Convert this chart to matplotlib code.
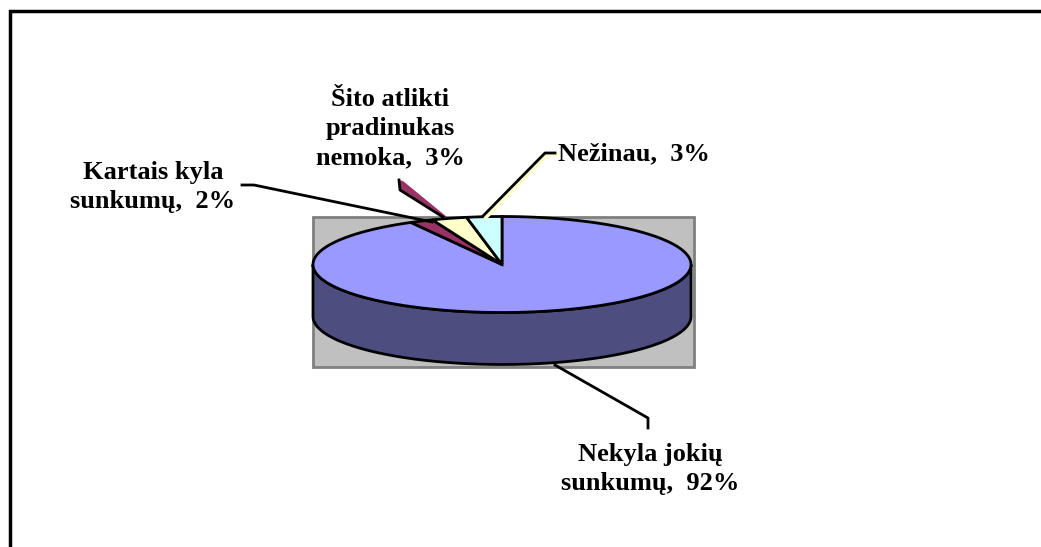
import numpy as np
import matplotlib.pyplot as plt
from matplotlib.patches import Polygon, Rectangle

# slices, clockwise from 12 o'clock (as the spreadsheet draws them)
labels = ['Nekyla jokių\nsunkumų,  92%', 'Kartais kyla\nsunkumų,  2%',
          'Šito atlikti\npradinukas\nnemoka,  3%', 'Nežinau,  3%']
values = [92, 2, 3, 3]
colors = ['#9999FF', '#993366', '#FFFFCC', '#CCFFFF']
side_color = '#4D4D80'

W, H = 1041, 547
fig = plt.figure(figsize=(W / 100, H / 100), dpi=100)
ax = fig.add_axes([0, 0, 1, 1])
ax.set_xlim(0, W)
ax.set_ylim(H, 0)
ax.axis('off')

# outer chart frame (only top/left visible in the crop)
ax.plot([10, 10, W + 5], [H + 5, 11, 11], color='black', lw=2.5, solid_joinstyle='miter')

# pie geometry in pixel space
cx, cy, rx, ry, depth = 502, 264.5, 189, 48, 52

# gray plot area behind the pie
ax.add_patch(Rectangle((cx - rx, cy - ry), 2 * rx + 3, 2 * ry + depth + 2,
                       facecolor='#C0C0C0', edgecolor='#808080', lw=2, zorder=1))


def ell(theta_deg, dy=0):
    t = np.radians(theta_deg)
    return cx + rx * np.sin(t), cy - ry * np.cos(t) + dy


# side wall (front half is all the big slice)
t = np.linspace(90, 270, 200)
xs, ys = ell(t)
xb, yb = ell(t[::-1], depth)
ax.add_patch(Polygon(np.column_stack([np.r_[xs, xb], np.r_[ys, yb]]),
                     facecolor=side_color, edgecolor='black', lw=2, zorder=2))

# top face wedges
angles = np.cumsum([0] + values) / sum(values) * 360
for a0, a1, c in zip(angles[:-1], angles[1:], colors):
    t = np.linspace(a0, a1, max(int(a1 - a0) * 2, 4))
    xs, ys = ell(t)
    pts = np.column_stack([np.r_[cx, xs], np.r_[cy, ys]])
    ax.add_patch(Polygon(pts, facecolor=c, edgecolor='black', lw=2,
                         joinstyle='miter', zorder=3))

# maroon sliver sticking out above the pie
ax.add_patch(Polygon([(399, 180), (400, 190), (443, 217), (447, 217), (403, 181)],
                     facecolor=colors[1], edgecolor='none', zorder=4))
ax.plot([399, 400, 443], [180, 190, 217], color='black', lw=2, zorder=4)

# leader lines
ax.plot([242, 254, 432], [185, 185, 222], color='black', lw=2, zorder=5)
ax.plot([486, 548, 557], [217, 154, 154], color=colors[2], lw=3, zorder=4)
ax.plot([483, 545, 555], [216, 153, 153], color='black', lw=2, zorder=5)
ax.plot([555, 648, 648], [365, 418, 428], color='black', lw=2, zorder=5)

font = dict(family=['Liberation Serif', 'DejaVu Serif'], fontweight='bold',
            fontsize=19, linespacing=1.35, zorder=6)
ax.text(650, 469, labels[0], ha='center', va='center', **font)
ax.text(153, 187, labels[1], ha='center', va='center', **font)
ax.text(390, 129, labels[2], ha='center', va='center', **font)
ax.text(558, 154, labels[3], ha='left', va='center', **font)

fig.savefig('out.png', dpi=100)
